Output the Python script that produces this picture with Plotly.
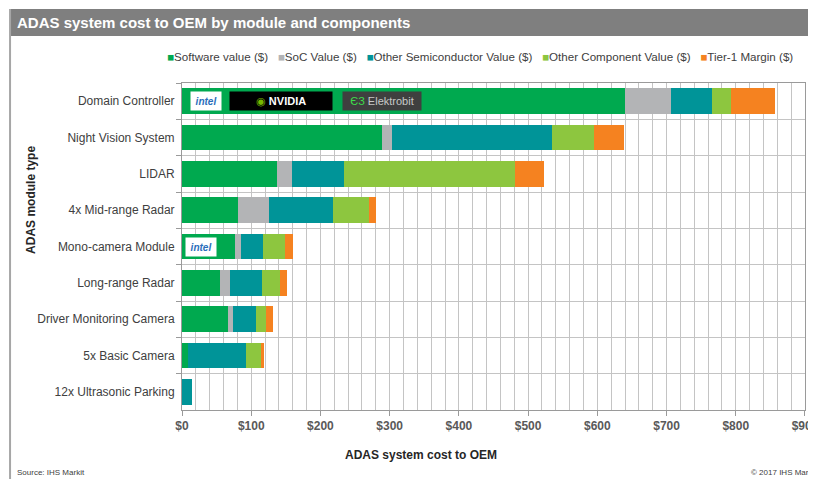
import plotly.graph_objects as go

modules = ["Domain Controller", "Night Vision System", "LIDAR", "4x Mid-range Radar",
           "Mono-camera Module", "Long-range Radar", "Driver Monitoring Camera",
           "5x Basic Camera", "12x Ultrasonic Parking"]

software = [640, 289, 137, 81, 77, 55, 66, 8, 0]
soc = [67, 14, 22, 45, 8, 14, 7, 0, 0]
other_semi = [59, 232, 75, 92, 32, 47, 34, 84, 15]
other_comp = [27, 60, 247, 52, 32, 26, 15, 22, 0]
tier1 = [63, 43, 42, 10, 12, 10, 9, 5, 0]

series = [
    ("Software value ($)", software, "#00a94f"),
    ("SoC Value ($)", soc, "#b3b4b6"),
    ("Other Semiconductor Value ($)", other_semi, "#009498"),
    ("Other Component Value ($)", other_comp, "#8dc63f"),
    ("Tier-1 Margin ($)", tier1, "#f58220"),
]

x_ticks = list(range(0, 1000, 100))
x_labels = ["<b>$" + str(v) + "</b>" for v in x_ticks]

fig = go.Figure()
for name, vals, col in series:
    fig.add_trace(go.Bar(y=modules, x=vals, name=name, orientation="h", showlegend=False,
                         marker=dict(color=col, line=dict(width=0)), width=0.7))

# legend row like the original (small squares in front of each name)
legend_txt = "   ".join("<span style='color:%s'>■</span>%s" % (c, n) for n, v, c in series)
fig.add_annotation(xref="paper", yref="paper", x=0.478, y=1.08, xanchor="center", yanchor="middle",
                   text=legend_txt, showarrow=False, font=dict(size=11.6, color="#404040"))

# logo placeholders drawn on the bars
logos = [
    (34, "Domain Controller", "<i><b>intel</b></i>", "white", "#2a6ebb", 30),
    (143, "Domain Controller", "<span style='color:#76b900'>◉</span> <b>NVIDIA</b>", "black", "white", 102),
    (289, "Domain Controller", "<span style='color:#3ddc4a'>ЄЗ</span> Elektrobit", "#3f3f3f", "#c8c8c8", 78),
    (27, "Mono-camera Module", "<i><b>intel</b></i>", "white", "#2a6ebb", 30),
]
for lx, ly, txt, bg, fc, w in logos:
    fig.add_annotation(x=lx, y=ly, xref="x", yref="y", text=txt, showarrow=False,
                       bgcolor=bg, width=w, height=18, borderpad=0,
                       font=dict(family="Liberation Sans, Arial", size=11 if w > 40 else 10, color=fc))

# page body has an 8px margin, so the figure is 8px smaller and shifted accordingly
fig.update_layout(
    width=808, height=471,
    margin=dict(l=174, r=11, t=75, b=69, autoexpand=False),
    barmode="stack",
    showlegend=False,
    paper_bgcolor="white", plot_bgcolor="white",
    font=dict(family="Liberation Sans, Arial", size=12, color="#404040"),
    xaxis=dict(range=[0, 900.01], tickvals=x_ticks, ticktext=x_labels, automargin=False,
               ticklabeloverflow="allow",
               showgrid=True, gridcolor="#c4c4c4", gridwidth=1,
               minor=dict(dtick=20, showgrid=True, gridcolor="#c4c4c4", gridwidth=1),
               showline=True, linecolor="#9a9a9a", mirror=True,
               ticks="outside", ticklen=5, tickcolor="#9a9a9a",
               tickfont=dict(size=12, color="#595959"), zeroline=False),
    yaxis=dict(autorange="reversed", tickson="boundaries", showgrid=True, automargin=False,
               gridcolor="#c4c4c4", gridwidth=1, ticks="outside", ticklen=5,
               tickcolor="#9a9a9a", showline=True, linecolor="#9a9a9a", mirror=True,
               tickfont=dict(size=12, color="#404040"), ticklabelstandoff=4),
    bargap=0.3,
)

# title bar and frame
fig.add_shape(type="rect", xref="paper", yref="paper", x0=-0.276, x1=1.03, y0=1.144, y1=1.226,
              fillcolor="#7f7f7f", line=dict(width=0), layer="below")
fig.add_shape(type="line", xref="paper", yref="paper", x0=-0.276, x1=-0.276, y0=1.226, y1=-0.25,
              line=dict(color="#a6a6a6", width=2))
fig.add_annotation(xref="paper", yref="paper", x=-0.268, y=1.186, xanchor="left", yanchor="middle",
                   text="<b>ADAS system cost to OEM by module and components</b>", showarrow=False,
                   font=dict(size=15, color="white"))
fig.add_annotation(xref="paper", yref="paper", x=0.384, y=-0.138, xanchor="center", yanchor="middle",
                   text="<b>ADAS system cost to OEM</b>", showarrow=False,
                   font=dict(size=12, color="#262626"))
fig.add_annotation(xref="paper", yref="paper", x=-0.257, y=0.642, textangle=-90,
                   text="<b>ADAS module type</b>", showarrow=False,
                   font=dict(size=12, color="#262626"))
fig.add_annotation(xref="paper", yref="paper", x=-0.268, y=-0.19, xanchor="left", yanchor="middle",
                   text="Source: IHS Markit", showarrow=False, font=dict(size=8, color="#404040"))
fig.add_annotation(xref="paper", yref="paper", x=1.022, y=-0.19, xanchor="right", yanchor="middle",
                   text="© 2017 IHS Markit", showarrow=False, font=dict(size=8, color="#404040"))

fig.write_html("out.html")
